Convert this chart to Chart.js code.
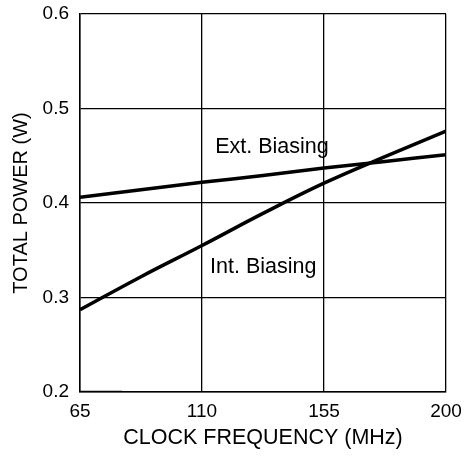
<!DOCTYPE html>
<html>
<head>
<meta charset="utf-8">
<script src="https://cdn.jsdelivr.net/npm/chart.js@4.4.0/dist/chart.umd.min.js"></script>
<style>
  html, body { margin: 0; padding: 0; background: #fff; }
  #wrap { width: 465px; height: 460px; }
</style>
</head>
<body>
<div id="wrap"><canvas id="grafico"></canvas></div>
<script>
// datos
const frecuencias = [65, 87.5, 110, 132.5, 155, 177.5, 200];
const potenciaExt = [0.406, 0.414, 0.422, 0.429, 0.437, 0.444, 0.451];
const potenciaInt = [0.287, 0.322, 0.355, 0.389, 0.421, 0.449, 0.476];
const tramoBase = [[65, 0.2], [80.5, 0.2]];
const ticksX = [65, 110, 155, 200];
const ticksY = [0.2, 0.3, 0.4, 0.5, 0.6];
const etiquetas = [
  { texto: 'Ext. Biasing', x: 135.8, y: 0.459 },
  { texto: 'Int. Biasing', x: 132.6, y: 0.332 }
];

const fuente = '"Liberation Sans", Arial, sans-serif';

function puntos(xs, ys) {
  return xs.map(function(x, i) { return { x: x, y: ys[i] }; });
}

// textos dentro del grafico
const pluginEtiquetas = {
  id: 'etiquetas',
  afterDatasetsDraw(chart) {
    const ctx = chart.ctx;
    ctx.save();
    ctx.font = '21.5px ' + fuente;
    ctx.fillStyle = '#000';
    ctx.textAlign = 'center';
    ctx.textBaseline = 'middle';
    etiquetas.forEach(function(e) {
      ctx.fillText(e.texto, chart.scales.x.getPixelForValue(e.x), chart.scales.y.getPixelForValue(e.y));
    });
    ctx.restore();
  }
};

new Chart(document.getElementById('grafico').getContext('2d'), {
  type: 'line',
  data: {
    datasets: [
      {
        label: 'Ext. Biasing',
        data: puntos(frecuencias, potenciaExt),
        borderColor: '#000',
        borderWidth: 3.5,
        pointRadius: 0,
        tension: 0.4
      },
      {
        label: 'Int. Biasing',
        data: puntos(frecuencias, potenciaInt),
        borderColor: '#000',
        borderWidth: 3.5,
        pointRadius: 0,
        tension: 0.4
      },
      {
        label: 'base',
        data: tramoBase.map(function(p) { return { x: p[0], y: p[1] }; }),
        borderColor: '#000',
        borderWidth: 2.5,
        pointRadius: 0
      }
    ]
  },
  options: {
    responsive: true,
    maintainAspectRatio: false,
    animation: false,
    layout: { padding: { top: 14, right: 19, left: 0, bottom: 9 } },
    plugins: {
      legend: { display: false },
      tooltip: { enabled: false }
    },
    scales: {
      x: {
        type: 'linear',
        min: 65,
        max: 200,
        afterBuildTicks: function(s) { s.ticks = ticksX.map(function(v) { return { value: v }; }); },
        afterFit: function(s) {
          s.height = 59;
          s.paddingLeft = 0;
          s.paddingRight = 0;
        },
        ticks: {
          color: '#000',
          font: { family: fuente, size: 19 },
          padding: 8,
          maxRotation: 0
        },
        grid: { color: '#000', lineWidth: 1.3, drawTicks: false },
        border: { color: '#000', width: 1.5 },
        title: {
          display: true,
          text: 'CLOCK FREQUENCY (MHz)',
          color: '#000',
          font: { family: fuente, size: 21.5 },
          padding: { top: 4, bottom: 0 }
        }
      },
      y: {
        type: 'linear',
        min: 0.2,
        max: 0.6,
        afterBuildTicks: function(s) { s.ticks = ticksY.map(function(v) { return { value: v }; }); },
        afterFit: function(s) {
          s.width = 80;
          s.paddingTop = 0;
          s.paddingBottom = 0;
        },
        ticks: {
          color: '#000',
          font: { family: fuente, size: 19 },
          padding: 11,
          callback: function(v) { return v.toFixed(1); }
        },
        grid: { color: '#000', lineWidth: 1.3, drawTicks: false },
        border: { color: '#000', width: 1.5 },
        title: {
          display: true,
          text: 'TOTAL POWER (W)',
          color: '#000',
          font: { family: fuente, size: 20 },
          padding: { top: 9, bottom: 4 }
        }
      }
    }
  },
  plugins: [pluginEtiquetas]
});
</script>
</body>
</html>
